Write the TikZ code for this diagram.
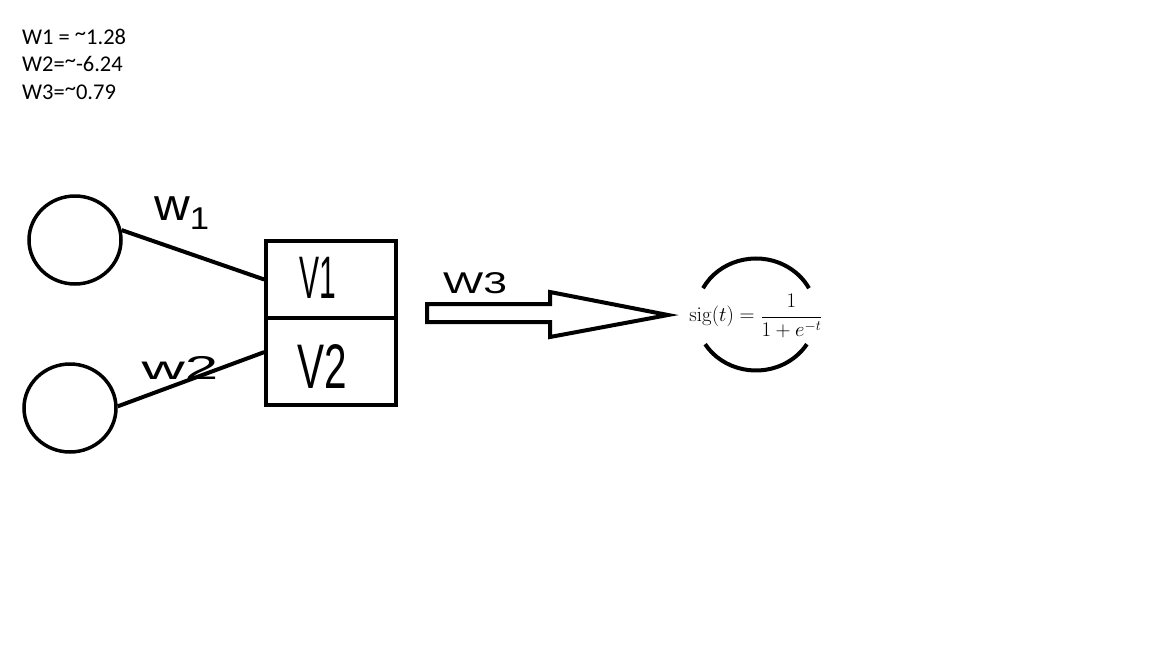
\documentclass[tikz,border=0pt]{standalone}
\usepackage[no-math]{fontspec}
\setmainfont{Carlito}
\newfontfamily\handfont{Liberation Sans}
\usetikzlibrary{shapes.geometric}

% hand-lettered labels: stretched sans text
\newcommand{\handlabel}[3]{\scalebox{#1}[#2]{\handfont\fontsize{30}{30}\selectfont #3}}
% raised tilde for approximate values
\newcommand{\approxtilde}{\raisebox{4pt}{\textasciitilde}}

\begin{document}
\begin{tikzpicture}[x=1pt, y=-1pt,
  inputnode/.style={ellipse, draw, line width=3.5pt, minimum width=92pt, minimum height=88pt, inner sep=0pt},
  cell/.style={rectangle, draw, line width=3.5pt, minimum width=130pt, inner sep=0pt},
  wire/.style={line width=4pt},
  handlbl/.style={inner sep=0pt},
  thick stroke/.style={line width=4pt}]

\useasboundingbox[fill=white] (0,0) rectangle (1152,648);

% weight values
\node[anchor=north west, align=left, inner sep=0pt,
      font=\fontsize{22.5}{27.5}\selectfont] (weights) at (22,28.5)
  {W1 = \approxtilde1.28\\W2=\approxtilde-6.24\\W3=\approxtilde0.79};

% input neurons
\node[inputnode] (in1) at (75,240) {};
\node[inputnode] (in2) at (70,408) {};

% hidden layer cells
\node[cell, minimum height=77pt] (v1) at (331,279.5) {};
\node[cell, minimum height=87pt] (v2) at (331,361.5) {};

% connections
\draw[wire] (in1.12) -- (v1.west);
\draw[wire] (in2.2) -- (v2.172);

% labels
\node[handlbl] (lw1) at (182,213) {\handlabel{1.65}{1.5}{w\textsubscript{1}}};
\node[handlbl] (lw2) at (180,368) {\handlabel{2.0}{1.1}{w2}};
\node[handlbl] (lv1) at (318,278) {\handlabel{1.0}{2.0}{V1}};
\node[handlbl] (lv2) at (322,367) {\handlabel{1.35}{2.1}{V2}};
\node[handlbl] (lw3) at (475,283) {\handlabel{1.42}{1.0}{W3}};

% block arrow towards the output
\draw[thick stroke, line join=miter]
  (427,304) -- (550,304) -- (550,292) -- (668,315) -- (550,337) -- (550,322) -- (427,322) -- cycle;

% output neuron with the sigmoid
\node[inner sep=0pt] (sig) at (756,316)
  {\fontsize{19.5}{23}\selectfont $\displaystyle \mathrm{sig}(t) = \frac{1}{1+e^{-t}}$};
\draw[thick stroke] (756,314.5) ++(208:60 and 56) arc[start angle=208, end angle=332, x radius=60, y radius=56];
\draw[thick stroke] (756,314.5) ++(148:60 and 56) arc[start angle=148, end angle=32, x radius=60, y radius=56];
\end{tikzpicture}
\end{document}
